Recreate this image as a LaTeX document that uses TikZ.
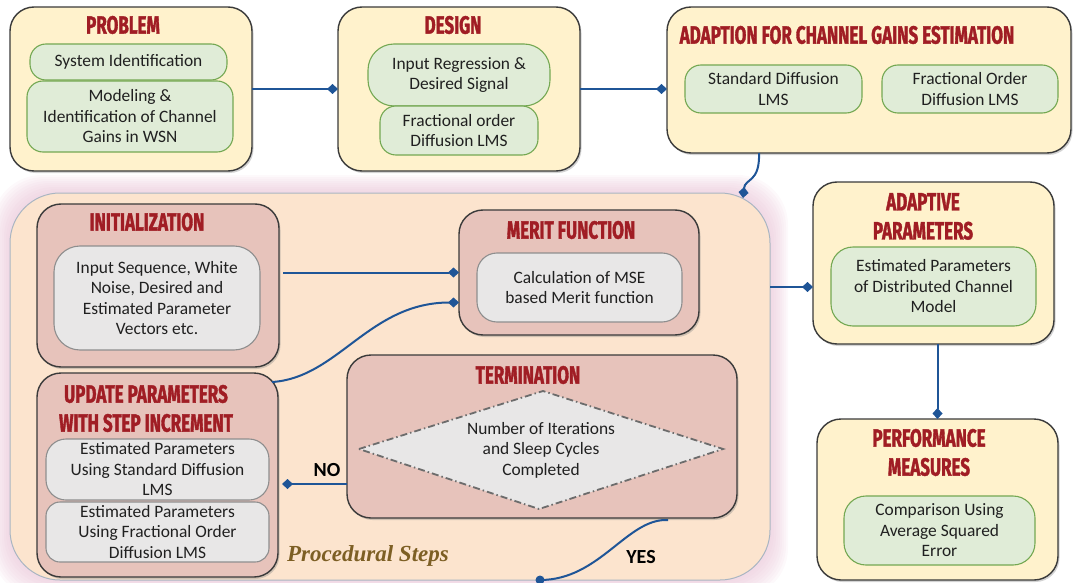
\documentclass[tikz,border=0pt]{standalone}
\usepackage{fontspec}
\setmainfont{Carlito}
\newfontfamily\ttlfont[FakeStretch=0.68,FakeBold=1.4]{Fira Sans}
\newfontfamily\procfont{Liberation Serif}
\usetikzlibrary{arrows.meta,shadows,calc,backgrounds}
\definecolor{boxyel}{HTML}{FFF2CC}
\definecolor{boxline}{HTML}{3A3A3A}
\definecolor{boxred}{HTML}{E7C3BB}
\definecolor{boxgreen}{HTML}{E0ECD7}
\definecolor{greenline}{HTML}{74A852}
\definecolor{boxgray}{HTML}{E8E7E7}
\definecolor{grayline}{HTML}{8E8E8E}
\definecolor{peach}{HTML}{FCE4CE}
\definecolor{peachline}{HTML}{A9B5C2}
\definecolor{glowpink}{HTML}{E9C3D6}
\definecolor{connblue}{HTML}{1F5597}
\definecolor{ttlred}{HTML}{A01D24}
\definecolor{textc}{HTML}{202020}
\definecolor{procc}{HTML}{7D5F24}
\newcommand\bodytext{\fontsize{17.4}{20.5}\selectfont}
\tikzset{
  base/.style={inner sep=0pt, outer sep=0pt},
  outerbox/.style={base, rounded corners=24pt, fill=boxyel, draw=boxline, line width=1.4pt,
    drop shadow={opacity=0.35, shadow xshift=1.5pt, shadow yshift=-2pt}},
  redbox/.style={outerbox, fill=boxred},
  greenbox/.style={base, rounded corners=16pt, fill=boxgreen, draw=greenline, line width=1.1pt,
    align=center, font=\bodytext, text=textc},
  graybox/.style={base, rounded corners=20pt, fill=boxgray, draw=grayline, line width=1.1pt,
    align=center, font=\bodytext, text=textc},
  ttl/.style={base, font=\ttlfont\bfseries\fontsize{25}{29}\selectfont, text=ttlred, align=center},
  conn/.style={draw=connblue, line width=2pt, -{Diamond[length=11pt,width=10pt]}},
  yesno/.style={base, font=\bfseries\fontsize{20}{22}\selectfont, text=black},
  dashdotline/.style={draw=gray!85!black, line width=1.8pt, dash pattern=on 7pt off 3pt on 1.5pt off 3pt}
}
\begin{document}
\begin{tikzpicture}[x=1pt,y=-1pt]
\useasboundingbox (0,0) rectangle (1073,583);

% ---------- procedural container ----------
\node[base, rounded corners=50pt, fill=peach, draw=peachline, line width=1pt,
      minimum width=760pt, minimum height=387pt] (proc) at (390,386.5) {};
\begin{pgfonlayer}{background}
  \foreach \i in {1,...,9}{
    \fill[glowpink, opacity=0.10, rounded corners=50pt]
      ($(proc.south west)+(-2*\i,2*\i)$) rectangle ($(proc.north east)+(2*\i,-2*\i)$);
  }
\end{pgfonlayer}

% ---------- top row ----------
\node[outerbox, minimum width=242pt, minimum height=164pt] (prob) at (131,89) {};
\node[ttl] (probt) at (123,25) {PROBLEM};
\node[greenbox, minimum width=197pt, minimum height=36pt] (sysid) at (128.5,62) {System Identification};
\node[greenbox, minimum width=206pt, minimum height=71pt] (model) at (130,116.5) {Modeling \&\\Identification of Channel\\Gains in WSN};

\node[outerbox, minimum width=242pt, minimum height=164pt] (design) at (459,89) {};
\node[ttl] (designt) at (453,25) {DESIGN};
\node[greenbox, rounded corners=26pt, minimum width=182pt, minimum height=62pt] (inreg) at (459,75) {Input Regression \&\\Desired Signal};
\node[greenbox, minimum width=158pt, minimum height=49pt] (fodlms) at (459,130.5) {Fractional order\\Diffusion LMS};

\node[outerbox, minimum width=404pt, minimum height=146pt] (adapt) at (869,80) {};
\node[ttl] (adaptt) at (847,35) {ADAPTION FOR CHANNEL GAINS ESTIMATION};
\node[greenbox, minimum width=177pt, minimum height=48pt] (std) at (773.5,89) {Standard Diffusion\\LMS};
\node[greenbox, minimum width=176pt, minimum height=48pt] (frac) at (970,89) {Fractional Order\\Diffusion LMS};

% ---------- procedural steps ----------
\node[redbox, minimum width=242pt, minimum height=163pt] (init) at (158,285.5) {};
\node[ttl] (initt) at (147,222) {INITIALIZATION};
\node[graybox, rounded corners=26pt, minimum width=206pt, minimum height=104pt] (initin) at (157,298) {Input Sequence, White\\Noise, Desired and\\Estimated Parameter\\Vectors etc.};

\node[redbox, minimum width=240pt, minimum height=125pt] (merit) at (579,272.5) {};
\node[ttl] (meritt) at (571,230) {MERIT FUNCTION};
\node[graybox, minimum width=205pt, minimum height=69pt] (meritin) at (579.5,287.5) {Calculation of MSE\\based Merit function};

\node[redbox, minimum width=241pt, minimum height=204pt] (update) at (157.5,475) {};
\node[ttl] (updatet) at (146,408.5) {UPDATE PARAMETERS\\WITH STEP INCREMENT};
\node[graybox, minimum width=223pt, minimum height=61pt] (upd1) at (157.5,469.5) {Estimated Parameters\\Using Standard Diffusion\\LMS};
\node[graybox, rounded corners=14pt, minimum width=223pt, minimum height=60pt] (upd2) at (157.5,532) {Estimated Parameters\\Using Fractional Order\\Diffusion LMS};

\node[redbox, minimum width=390pt, minimum height=163pt] (term) at (542,436.5) {};
\node[ttl] (termt) at (528,375) {TERMINATION};
\coordinate (dl) at (359,449);
\coordinate (dt) at (543,391);
\coordinate (dr) at (723,449);
\coordinate (db) at (539,509);
\fill[boxgray] (dl) -- (dt) -- (dr) -- (db) -- cycle;
\draw[dashdotline] (dl) -- (dt) -- (dr) -- (db) -- cycle;
\node[base, align=center, font=\bodytext, text=textc] (termtxt) at (541,450) {Number of Iterations\\and Sleep Cycles\\Completed};

\node[base, font=\procfont\bfseries\itshape\fontsize{23}{25}\selectfont, text=procc] (proct) at (368,556) {Procedural Steps};

% ---------- right column ----------
\node[outerbox, minimum width=241pt, minimum height=162pt] (adaptive) at (933.5,263) {};
\node[ttl] (adaptivet) at (923,216.5) {ADAPTIVE\\PARAMETERS};
\node[greenbox, rounded corners=22pt, minimum width=205pt, minimum height=79pt] (adaptin) at (933.5,286.5) {Estimated Parameters\\of Distributed Channel\\Model};

\node[outerbox, minimum width=241pt, minimum height=161pt] (perf) at (937.5,499.5) {};
\node[ttl] (perft) at (929,452.5) {PERFORMANCE\\MEASURES};
\node[greenbox, rounded corners=22pt, minimum width=191pt, minimum height=69pt] (perfin) at (939.5,530.5) {Comparison Using\\Average Squared\\Error};

% ---------- connectors ----------
\draw[conn] (prob) -- (design);
\draw[conn] (design.east) -- (design.east -| adapt.west);
\draw[conn] ($(adapt.south west)+(92,0)$) .. controls ($(adapt.south west)+(93,30)$) and ($(proc.north east)+(-25,-15)$) .. ($(proc.north east)+(-27,5)$);
\draw[conn] ($(proc.east)+(0,-99.5)$) -- ($(adaptive.west)+(0,24)$);
\draw[conn] (adaptive.south -| perf.north) -- (perf.north);
\draw[conn] ($(init.east |- merit.west)+(4,0)$) -- (merit.west);
\draw[conn] ($(update.north east)+(-6,9)$) .. controls ($(update.north east)+(60,5)$) and ($(merit.west)+(-90,30)$) .. ($(merit.west)+(0,30)$);
\draw[conn] ($(term.west)+(0,47.5)$) -- ($(update.east)+(4,9)$);
\draw[draw=connblue, line width=2pt] ($(term.south east)+(-69,2)$) .. controls ($(term.south east)+(-110,0)$) and ($(proc.south)+(210,0)$) .. ($(proc.south)+(150,0)$);
\fill[connblue] ($(proc.south)+(150,0)$) circle (4.5pt);
\node[yesno] (nolbl) at (327,470) {NO};
\node[yesno] (yeslbl) at (641,557) {YES};
\end{tikzpicture}
\end{document}
